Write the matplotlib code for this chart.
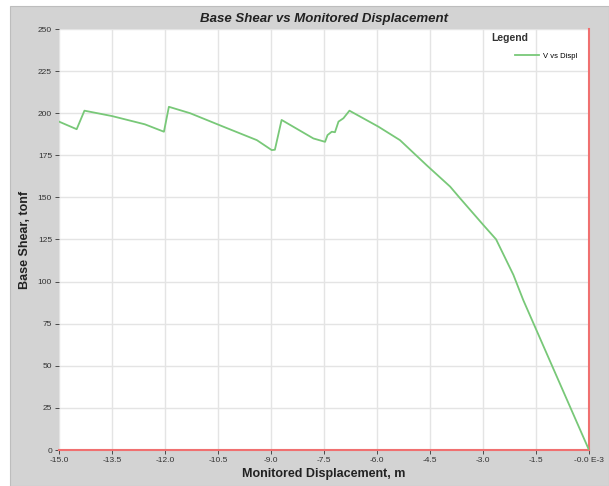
import numpy as np
import matplotlib.pyplot as plt
from matplotlib.patches import Rectangle

plt.rcParams['font.family'] = ['Liberation Sans', 'DejaVu Sans']

# curve (displacement m, base shear tonf)
displ = [-15.0, -14.5, -14.28, -13.5, -12.57, -12.03, -11.89, -11.29, -10.35, -9.40,
         -8.98, -8.89, -8.70, -7.80, -7.47, -7.40, -7.28, -7.19, -7.09, -6.95,
         -6.78, -5.96, -5.35, -4.59, -3.93, -3.65, -2.99, -2.63, -2.14, -1.86,
         -1.53, 0.0]
shear = [195.0, 190.5, 201.5, 198.3, 193.4, 189.0, 203.8, 200.0, 192.0, 184.0,
         178.1, 178.3, 196.0, 185.0, 183.0, 187.0, 189.0, 188.7, 195.0, 197.0,
         201.5, 192.0, 184.0, 169.0, 156.4, 149.5, 133.6, 125.1, 104.0, 89.0,
         73.2, 0.0]

xticks = [-15.0, -13.5, -12.0, -10.5, -9.0, -7.5, -6.0, -4.5, -3.0, -1.5, 0.0]
xlabels = ['-15.0', '-13.5', '-12.0', '-10.5', '-9.0', '-7.5', '-6.0', '-4.5', '-3.0', '-1.5', '-0.0 E-3']
yticks = [0, 25, 50, 75, 100, 125, 150, 175, 200, 225, 250]

W, H = 609, 486
fig = plt.figure(figsize=(W / 100, H / 100), dpi=100, facecolor='white')
# grey panel behind the chart
fig.patches.append(Rectangle((10 / W, 0), 1 - 10 / W, 1 - 6 / H, transform=fig.transFigure,
                             facecolor='#d3d3d3', edgecolor='#bdbdbd', lw=0.8, zorder=-1))

ax = fig.add_axes([59 / W, 1 - 450 / H, 530 / W, 421 / H])
ax.set_facecolor('white')
ax.plot(displ, shear, color='#78c878', lw=1.3, label='V vs Displ', zorder=3)

ax.set_xlim(-15, 0)
ax.set_ylim(0, 250)
ax.set_xticks(xticks)
ax.set_xticklabels(xlabels)
ax.set_yticks(yticks)
ax.grid(True, color='#e4e4e4', lw=1.0)
ax.tick_params(labelsize=6, colors='#333333', length=3, width=0.6, pad=2)

for s in ['top', 'left']:
    ax.spines[s].set_visible(False)
ax.spines['bottom'].set_color('#f07070')
ax.spines['bottom'].set_linewidth(1.5)
ax.spines['right'].set_color('#f07070')
ax.spines['right'].set_linewidth(1.5)

ax.set_title('Base Shear vs Monitored Displacement', fontsize=9.5, fontweight='bold',
             fontstyle='italic', color='#222222', pad=5)
ax.set_xlabel('Monitored Displacement, m', fontsize=9, fontweight='bold', color='#222222', labelpad=3)
ax.set_ylabel('Base Shear, tonf', fontsize=9, fontweight='bold', color='#222222', labelpad=5)

# legend: title text placed by hand, entry below it
ax.text(491 / W, 1 - 38 / H, 'Legend', transform=fig.transFigure, fontsize=7.5,
        fontweight='bold', color='#333333', va='center', ha='left')
leg = ax.legend(loc='center left', frameon=False, fontsize=5.5, handlelength=3.2,
                handletextpad=0.5, bbox_to_anchor=(508 / W, 1 - 56 / H),
                bbox_transform=fig.transFigure)

fig.savefig('out.png', dpi=100, facecolor=fig.get_facecolor())
